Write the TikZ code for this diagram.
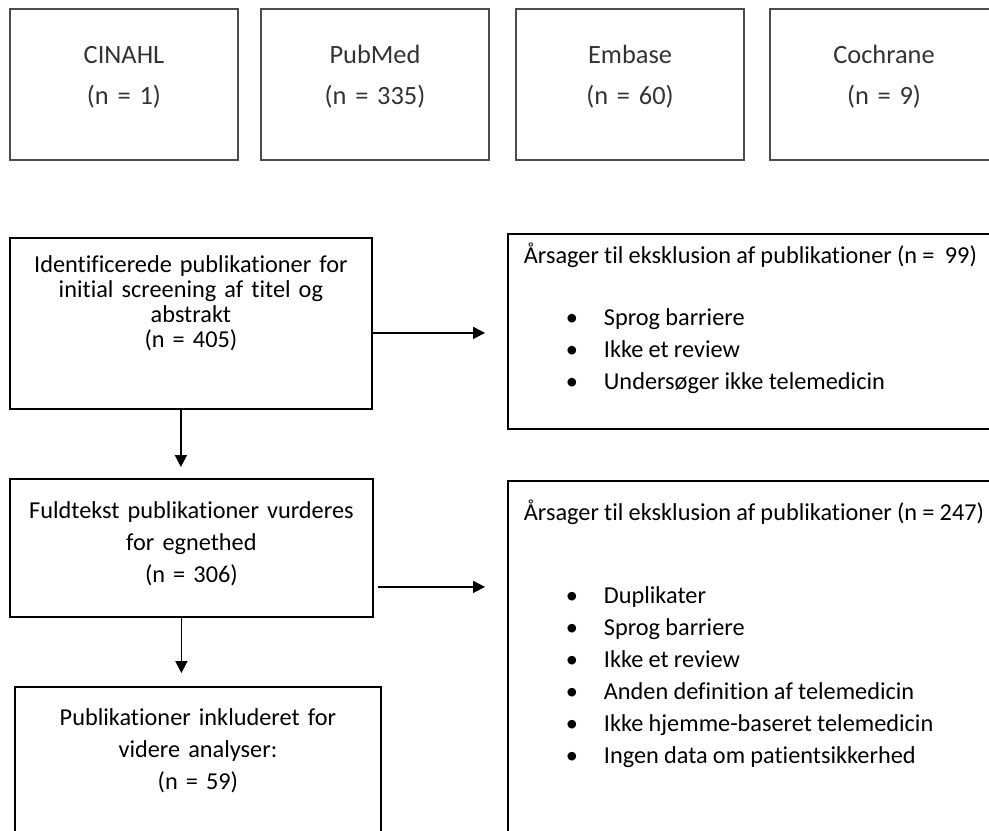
\documentclass[tikz,border=0pt]{standalone}
\usepackage{fontspec}
\setmainfont{Carlito}[Ligatures=NoCommon]
\usetikzlibrary{arrows.meta,calc}

\newcommand{\punkt}[1]{\hspace*{21pt}\makebox[19pt][l]{\textbullet}#1}

\tikzset{
  srcbox/.style={draw=black!70,line width=1pt,anchor=north west,inner sep=0pt,
    text width=114pt,align=center,text=black!80,
    font=\fontsize{13.2}{20.25}\selectfont,text height=27.25pt,text depth=48.25pt},
  stepbox/.style={draw,line width=0.9pt,anchor=north west,inner sep=0pt,
    align=center,font=\fontsize{12.15}{16}\selectfont},
  exclbox/.style={draw,line width=0.9pt,anchor=north west,inner xsep=8pt,inner ysep=0pt,
    text width=250pt,align=left,font=\fontsize{12.15}{16}\selectfont,
    execute at begin node={\spaceskip=0.95\fontdimen2\font\relax}},
  flow/.style={-{Triangle[length=6pt,width=6pt]},line width=0.9pt},
}

\begin{document}
\begin{tikzpicture}[x=0.5pt,y=-0.5pt]
  \useasboundingbox (0,0) rectangle (989,830);
  \clip (0,0) rectangle (989,830);
  % databases
  \node[srcbox] (cinahl) at (9,8) {CINAHL\\(n = 1)};
  \node[srcbox] (pubmed) at (260,8) {PubMed\\(n = 335)};
  \node[srcbox] (embase) at (515,8) {Embase\\(n = 60)};
  \node[srcbox] (cochrane) at (769,8) {Cochrane\\(n = 9)};
  % screening steps
  \node[stepbox,text width=181pt,font=\fontsize{12.15}{12.5}\selectfont,
    text height=17.25pt,text depth=68.25pt] (ident) at (9,237)
    {Identificerede publikationer for\\initial screening af titel og\\abstrakt\\(n = 405)};
  \node[stepbox,text width=181.5pt,text height=20pt,text depth=49pt] (full) at (9,478)
    {Fuldtekst publikationer vurderes\\for egnethed\\(n = 306)};
  \node[stepbox,text width=183pt,text height=19.5pt,text depth=80pt] (incl) at (14,686)
    {Publikationer inkluderet for\\videre analyser:\\(n = 59)};
  % exclusions
  \node[exclbox,text height=15pt,text depth=82.5pt] (excl1) at (507,233)
    {Årsager til eksklusion af publikationer (n = \ 99)\\[15pt]
     \punkt{Sprog barriere}\\
     \punkt{Ikke et review}\\
     \punkt{Undersøger ikke telemedicin}};
  \node[exclbox,text height=20pt,text depth=175pt] (excl2) at (507,480)
    {Årsager til eksklusion af publikationer (n = 247)\\[25.5pt]
     \punkt{Duplikater}\\
     \punkt{Sprog barriere}\\
     \punkt{Ikke et review}\\
     \punkt{Anden definition af telemedicin}\\
     \punkt{Ikke hjemme-baseret telemedicin}\\
     \punkt{Ingen data om patientsikkerhed}};
  % arrows
  \coordinate (o1) at ($(ident.east)+(0,9.5)$);
  \coordinate (d1) at ($(ident.south)+(-10,0)$);
  \coordinate (o2) at ($(full.east)+(0,39)$);
  \coordinate (d2) at ($(full.south)+(-10,0)$);
  \draw[flow,shorten >=11pt] (o1) -- (o1 -| excl1.west);
  \draw[flow,shorten >=5.5pt] (d1) -- (d1 |- full.north);
  \draw[flow,shorten <=2pt,shorten >=11pt] (o2) -- (o2 -| excl2.west);
  \draw[flow,shorten >=6.5pt] (d2) -- (d2 |- incl.north);
\end{tikzpicture}
\end{document}
